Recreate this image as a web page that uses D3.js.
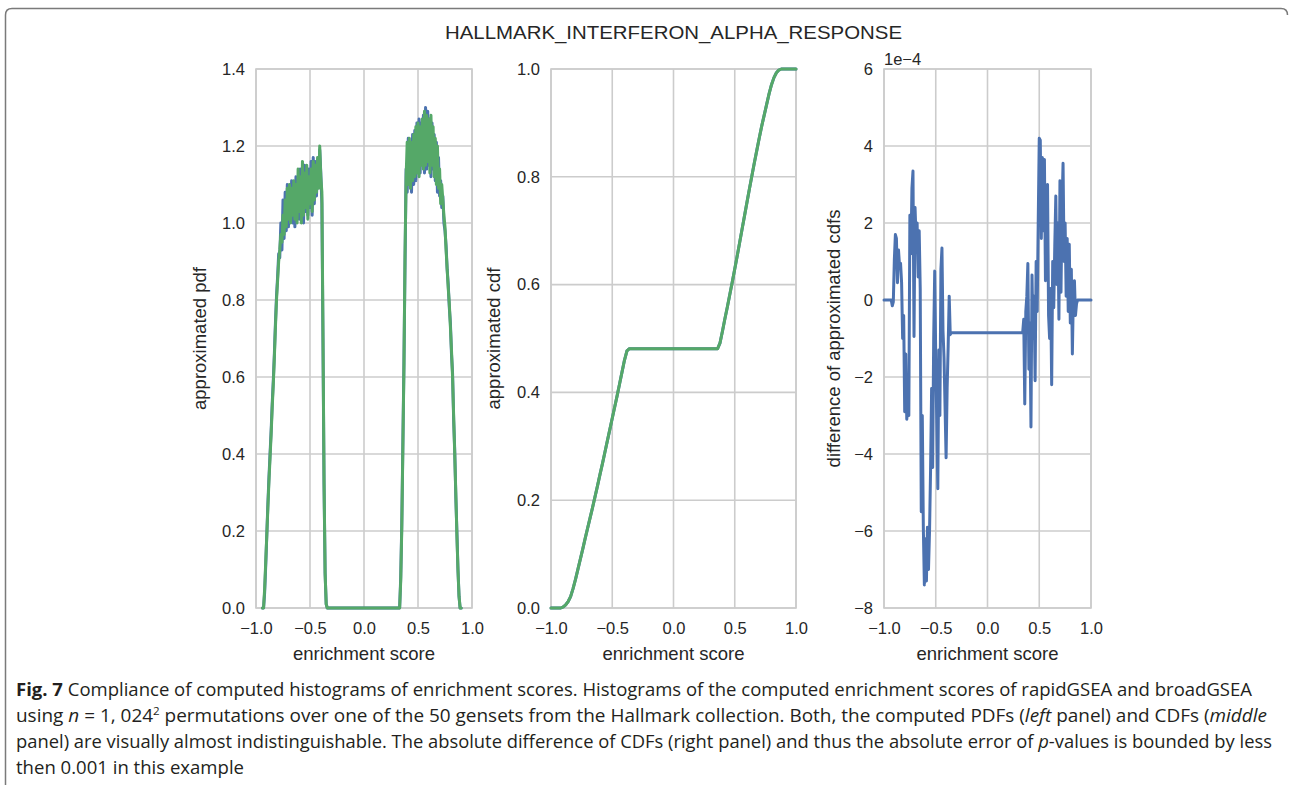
<!DOCTYPE html>
<html>
<head>
<meta charset="utf-8" />
<title>HALLMARK_INTERFERON_ALPHA_RESPONSE</title>
<style>
  body { margin: 0; background: #fff; }
  text { font-family: "Liberation Sans", Arial, sans-serif; fill: #262626; }
  .caption text, text.caption { font-family: "Open Sans", "Noto Sans", sans-serif; fill: #231f20; }
</style>
</head>
<body>
<svg id="fig" width="1289" height="785"></svg>
<script src="https://d3js.org/d3.v7.min.js"></script>
<script>

// ---- data ----
var esTicks = [-1, -0.5, 0, 0.5, 1];
var pdfTicks = [0, 0.2, 0.4, 0.6, 0.8, 1.0, 1.2, 1.4];
var cdfTicks = [0, 0.2, 0.4, 0.6, 0.8, 1.0];
var diffTicks = [-8, -6, -4, -2, 0, 2, 4, 6];

// pdf, sampled every 0.01, left hump starts at -0.94, right hump at 0.33
var pdfStep = 0.01;
var pdfLeftStart = -0.94, pdfRightStart = 0.33;
var pdfBroadLeft = [
  0, 0, 0.04, 0.11, 0.19, 0.27, 0.34, 0.40, 0.46, 0.53,
  0.59, 0.66, 0.74, 0.81, 0.86, 0.92, 0.91, 1.00, 0.93, 1.06,
  0.96, 1.08, 0.98, 1.10, 0.99, 1.08, 1.02, 1.11, 1.00, 1.10,
  0.99, 1.12, 1.02, 1.11, 1.01, 1.14, 1.02, 1.13, 1.00, 1.15,
  1.03, 1.13, 1.02, 1.14, 1.04, 1.16, 1.02, 1.17, 1.05, 1.16,
  1.07, 1.15, 1.10, 1.19, 1.13, 1.05, 0.70, 0.32, 0.09, 0.01,
  0
];
var pdfRapidLeft = [
  0, 0, 0.05, 0.12, 0.19, 0.26, 0.33, 0.39, 0.45, 0.52,
  0.58, 0.65, 0.73, 0.80, 0.85, 0.90, 0.93, 0.97, 0.95, 1.02,
  0.97, 1.06, 0.99, 1.09, 1.01, 1.10, 1.00, 1.09, 1.02, 1.11,
  1.01, 1.10, 1.00, 1.14, 1.03, 1.12, 1.00, 1.16, 1.02, 1.13,
  1.04, 1.15, 1.01, 1.12, 1.05, 1.14, 1.03, 1.16, 1.06, 1.15,
  1.08, 1.17, 1.09, 1.20, 1.12, 1.08, 0.72, 0.33, 0.09, 0.01,
  0
];
var pdfBroadRight = [
  0, 0.08, 0.22, 0.43, 0.64, 0.90, 1.14, 1.08, 1.22, 1.10,
  1.21, 1.08, 1.23, 1.10, 1.24, 1.11, 1.26, 1.14, 1.27, 1.13,
  1.26, 1.16, 1.28, 1.13, 1.30, 1.14, 1.29, 1.15, 1.27, 1.12,
  1.26, 1.14, 1.23, 1.11, 1.21, 1.08, 1.17, 1.07, 1.11, 1.04,
  1.07, 1.00, 0.98, 0.94, 0.88, 0.84, 0.78, 0.74, 0.66, 0.61,
  0.49, 0.41, 0.29, 0.20, 0.10, 0.03, 0, 0
];
var pdfRapidRight = [
  0, 0.07, 0.21, 0.42, 0.63, 0.92, 1.12, 1.21, 1.10, 1.22,
  1.09, 1.21, 1.11, 1.23, 1.12, 1.25, 1.13, 1.26, 1.12, 1.25,
  1.15, 1.27, 1.14, 1.29, 1.15, 1.28, 1.16, 1.27, 1.13, 1.28,
  1.15, 1.25, 1.12, 1.22, 1.10, 1.20, 1.09, 1.14, 1.05, 1.10,
  1.06, 1.02, 0.99, 0.93, 0.88, 0.83, 0.79, 0.73, 0.67, 0.60,
  0.50, 0.40, 0.30, 0.19, 0.10, 0.03, 0, 0
];

// cdf, sampled every 0.02 (flat 0.481 between the two parts)
var cdfStep = 0.02;
var cdfLeftStart = -1.0, cdfRightStart = 0.36;
var cdfLeft = [
  0, 0, 0, 0, 0, 0.002, 0.006, 0.012, 0.021, 0.036,
  0.053, 0.072, 0.091, 0.110, 0.130, 0.149, 0.168, 0.187, 0.207, 0.227,
  0.248, 0.268, 0.289, 0.310, 0.331, 0.352, 0.373, 0.394, 0.416, 0.438,
  0.460, 0.477, 0.481
];
var cdfRight = [
  0.481, 0.492, 0.514, 0.537, 0.559, 0.582, 0.605, 0.629, 0.653, 0.678,
  0.703, 0.728, 0.753, 0.778, 0.802, 0.826, 0.849, 0.872, 0.894, 0.914,
  0.934, 0.954, 0.971, 0.984, 0.993, 0.998, 1, 1, 1, 1,
  1, 1, 1
];

// difference of cdfs in units of 1e-4, sampled every 0.01
var diffStep = 0.01;
var diffLeftStart = -1.0, diffRightStart = 0.34;
var diffLeft = [
  0, 0, 0, 0, 0, 0, 0, 0, -0.15, -0.05,
  1.05, 1.7, 1.6, 0.45, 1.3, 0.9, 0.95, 0.45, -1.0, -0.4,
  -2.9, -1.4, -3.1, -2.8, -3.0, 2.2, 1.2, 2.9, 3.35, -0.95,
  2.4, 1.6, 2.0, 0.6, 1.8, 0.3, -5.5, -3.0, -5.9, -7.4,
  -6.2, -7.3, -5.9, -7.0, -6.0, -4.4, -2.3, -4.35, -1.0, 0.75,
  -1.5, -3.2, -4.9, -1.3, -3.0, 0.8, 1.35, -0.8, -1.5, -2.8,
  -4.1, -2.3, -1.2, 0.1, -0.9, -0.85
];
var diffRight = [
  -0.85, -0.5, -2.7, -0.3, 0.1, 0.95, -1.8, -0.6, -3.3, 0.65,
  -1.0, 0.1, -2.1, 1.0, -0.3, 2.0, 4.2, 4.15, 1.6, 3.7,
  1.8, 3.65, 0.5, 2.6, 3.0, -0.4, -1.0, 0.3, -2.2, 1.0,
  -0.2, 1.4, 2.7, 0.4, 2.0, -0.5, 3.1, 0.2, 2.4, 3.55,
  1.0, 2.0, 0.1, 1.6, -0.3, 1.45, -0.6, 0.8, -1.4, 0.2,
  0.5, -0.4, -0.1, 0, 0, 0, 0, 0, 0, 0,
  0, 0, 0, 0, 0, 0, 0
];

var blue = "#4c72b0", green = "#55a868";

function sampled(start, step, values) {
  return values.map(function(v, i) {
    return { x: +(start + i * step).toFixed(3), y: v };
  });
}

var pdfBroad = sampled(pdfLeftStart, pdfStep, pdfBroadLeft).concat(sampled(pdfRightStart, pdfStep, pdfBroadRight));
var pdfRapid = sampled(pdfLeftStart, pdfStep, pdfRapidLeft).concat(sampled(pdfRightStart, pdfStep, pdfRapidRight));
var cdfAll = sampled(cdfLeftStart, cdfStep, cdfLeft).concat(sampled(cdfRightStart, cdfStep, cdfRight));
var diffAll = sampled(diffLeftStart, diffStep, diffLeft).concat(sampled(diffRightStart, diffStep, diffRight));

var svg = d3.select("#fig");

// frame around the figure
svg.append("path")
  .attr("d", "M5.5,785 L5.5,15 Q5.5,8.5 12,8.5 L1281,8.5 Q1287.5,8.5 1287.5,15")
  .attr("fill", "none")
  .attr("stroke", "#7a7a7a")
  .attr("stroke-width", 1.5);

svg.append("text")
  .attr("x", 673.5)
  .attr("y", 39)
  .attr("text-anchor", "middle")
  .attr("font-size", 18)
  .attr("textLength", 457)
  .attr("lengthAdjust", "spacingAndGlyphs")
  .text("HALLMARK_INTERFERON_ALPHA_RESPONSE");

var plotTop = 69, plotBottom = 608;

var panels = [
  { left: 256, right: 472, yDomain: [0, 1.4], yTicks: pdfTicks, yFmt: d3.format(".1f"),
    ylabel: "approximated pdf", labelX: 206,
    series: [{ data: pdfBroad, color: blue }, { data: pdfRapid, color: green }] },
  { left: 551, right: 796, yDomain: [0, 1], yTicks: cdfTicks, yFmt: d3.format(".1f"),
    ylabel: "approximated cdf", labelX: 500,
    series: [{ data: cdfAll, color: blue }, { data: cdfAll, color: green }] },
  { left: 884, right: 1091, yDomain: [-8, 6], yTicks: diffTicks, yFmt: d3.format("d"),
    ylabel: "difference of approximated cdfs", labelX: 840, offset: "1e\u22124",
    series: [{ data: diffAll, color: blue }] }
];

panels.forEach(function(p) {
  var x = d3.scaleLinear().domain([-1, 1]).range([p.left, p.right]);
  var y = d3.scaleLinear().domain(p.yDomain).range([plotBottom, plotTop]);
  var g = svg.append("g");

  // grid
  g.selectAll("line.vgrid").data(esTicks).enter().append("line")
    .attr("x1", function(d){ return x(d); })
    .attr("x2", function(d){ return x(d); })
    .attr("y1", plotTop).attr("y2", plotBottom)
    .attr("stroke", "#cccccc").attr("stroke-width", 1.6);
  g.selectAll("line.hgrid").data(p.yTicks).enter().append("line")
    .attr("y1", function(d){ return y(d); })
    .attr("y2", function(d){ return y(d); })
    .attr("x1", p.left).attr("x2", p.right)
    .attr("stroke", "#cccccc").attr("stroke-width", 1.6);
  g.append("rect")
    .attr("x", p.left).attr("y", plotTop)
    .attr("width", p.right - p.left).attr("height", plotBottom - plotTop)
    .attr("fill", "none").attr("stroke", "#cccccc").attr("stroke-width", 1.6);

  // axes
  var xAxis = g.append("g")
    .attr("transform", "translate(0," + plotBottom + ")")
    .call(d3.axisBottom(x).tickValues(esTicks).tickFormat(d3.format(".1f")).tickSize(0).tickPadding(14));
  var yAxis = g.append("g")
    .attr("transform", "translate(" + p.left + ",0)")
    .call(d3.axisLeft(y).tickValues(p.yTicks).tickFormat(p.yFmt).tickSize(0).tickPadding(11));
  [xAxis, yAxis].forEach(function(a) {
    a.select(".domain").remove();
    a.attr("font-family", null).attr("font-size", null);
    a.selectAll("text").attr("font-size", 16.5).attr("fill", "#262626");
  });

  g.append("text")
    .attr("x", (p.left + p.right) / 2)
    .attr("y", 660)
    .attr("text-anchor", "middle")
    .attr("font-size", 18.5)
    .text("enrichment score");

  g.append("text")
    .attr("transform", "translate(" + p.labelX + "," + (plotTop + plotBottom) / 2 + ") rotate(-90)")
    .attr("text-anchor", "middle")
    .attr("font-size", 18.5)
    .text(p.ylabel);

  if (p.offset) {
    g.append("text")
      .attr("x", p.left).attr("y", 65)
      .attr("font-size", 16.5)
      .text(p.offset);
  }

  var line = d3.line()
    .x(function(d){ return x(d.x); })
    .y(function(d){ return y(d.y); });

  p.series.forEach(function(s) {
    g.append("path")
      .datum(s.data)
      .attr("d", line)
      .attr("fill", "none")
      .attr("stroke", s.color)
      .attr("stroke-width", 3)
      .attr("stroke-linejoin", "round")
      .attr("stroke-linecap", "round");
  });
});

// caption
var cap = svg.append("g").attr("class", "caption");
var capLines = [
  { y: 696, w: 1236, parts: [
    { t: "Fig. 7", b: true },
    { t: " Compliance of computed histograms of enrichment scores. Histograms of the computed enrichment scores of rapidGSEA and broadGSEA" }] },
  { y: 722, w: 1251, parts: [
    { t: "using " }, { t: "n", i: true }, { t: " = 1, 024" }, { t: "2", sup: true },
    { t: " permutations over one of the 50 gensets from the Hallmark collection. Both, the computed PDFs (" },
    { t: "left", i: true }, { t: " panel) and CDFs (" }, { t: "middle", i: true }] },
  { y: 748, w: 1256, parts: [
    { t: "panel) are visually almost indistinguishable. The absolute difference of CDFs (right panel) and thus the absolute error of " },
    { t: "p", i: true }, { t: "-values is bounded by less" }] },
  { y: 774, w: 228, parts: [{ t: "then 0.001 in this example" }] }
];
capLines.forEach(function(l) {
  var t = cap.append("text")
    .attr("x", 16).attr("y", l.y)
    .attr("font-size", 18)
    .attr("textLength", l.w)
    .attr("lengthAdjust", "spacingAndGlyphs");
  l.parts.forEach(function(p) {
    var ts = t.append("tspan").text(p.t);
    if (p.b) ts.attr("font-weight", "bold");
    if (p.i) ts.attr("font-style", "italic");
    if (p.sup) ts.attr("font-size", 11).attr("dy", -7);
    if (p.t.indexOf(" permutations") === 0) ts.attr("dy", 7);
  });
});

</script>
</body>
</html>
